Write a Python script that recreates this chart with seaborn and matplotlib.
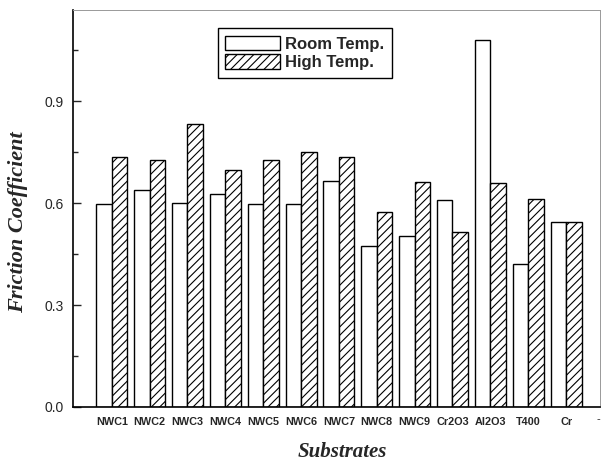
import matplotlib
matplotlib.use("Agg")
import matplotlib.pyplot as plt
from matplotlib.ticker import MultipleLocator
import seaborn as sns
import pandas as pd

substrates = ["NWC1", "NWC2", "NWC3", "NWC4", "NWC5", "NWC6", "NWC7", "NWC8",
              "NWC9", "Cr2O3", "Al2O3", "T400", "Cr"]
room_temp = [0.597, 0.638, 0.600, 0.627, 0.597, 0.597, 0.665, 0.474, 0.503,
             0.609, 1.079, 0.420, 0.544]
high_temp = [0.735, 0.726, 0.832, 0.697, 0.726, 0.750, 0.735, 0.574, 0.662,
             0.515, 0.659, 0.612, 0.544]
series = ["Room Temp.", "High Temp."]

df = pd.DataFrame({
    "Substrate": substrates * 2,
    "Friction": room_temp + high_temp,
    "Condition": [series[0]] * len(substrates) + [series[1]] * len(substrates),
})

sns.set_style("ticks")
plt.rcParams["font.family"] = ["Liberation Sans", "DejaVu Sans"]
plt.rcParams["hatch.linewidth"] = 0.8

fig = plt.figure(figsize=(6.04, 4.63), dpi=100)
ax = fig.add_axes([0.121, 0.121, 0.872, 0.857])

sns.barplot(data=df, x="Substrate", y="Friction", hue="Condition",
            order=substrates, hue_order=series, width=0.82, gap=0,
            palette=["white", "white"], edgecolor="black", linewidth=1.0,
            saturation=1, ax=ax, errorbar=None)

for patch in ax.containers[1]:
    patch.set_hatch("////")

ax.set_xlim(-1.02, 12.89)
ax.set_ylim(0, 1.168)
ax.yaxis.set_minor_locator(MultipleLocator(0.15))
ax.set_yticks([0.0, 0.3, 0.6, 0.9])
ax.set_yticklabels(["0.0", "0.3", "0.6", "0.9"], fontsize=10)
ax.tick_params(axis="y", which="major", direction="in", length=6, width=1, pad=7)
ax.tick_params(axis="y", which="minor", direction="in", length=3.5, width=1)
ax.tick_params(axis="x", length=0, pad=7)
for lab in ax.get_xticklabels():
    lab.set_fontsize(7.8)
    lab.set_fontweight("bold")

ax.text(12.85, -0.022, "-", ha="center", va="top", fontsize=8,
        transform=ax.transData)

for side in ["left", "bottom"]:
    ax.spines[side].set_color("black")
    ax.spines[side].set_linewidth(1.2)
for side in ["top", "right"]:
    ax.spines[side].set_visible(True)
    ax.spines[side].set_color("#999999")
    ax.spines[side].set_linewidth(0.7)
    ax.spines[side].set_linestyle((0, (1, 1)))

label_font = dict(family=["Liberation Serif", "DejaVu Serif"], weight="bold",
                  style="italic", size=15)
ax.set_xlabel("Substrates", fontdict=label_font)
ax.set_ylabel("Friction Coefficient", fontdict=dict(label_font, size=16))
ax.xaxis.set_label_coords(0.512, -0.089)
ax.yaxis.set_label_coords(-0.086, 0.466)

leg = ax.legend(loc="upper center", bbox_to_anchor=(0.44, 0.955),
                frameon=True, fancybox=False, shadow=False,
                prop=dict(family="Liberation Sans", weight="bold", size=12),
                handlelength=3.3, handleheight=1.0, handletextpad=0.3,
                borderpad=0.45, labelspacing=0.15, borderaxespad=0)
leg.get_frame().set_edgecolor("black")
leg.get_frame().set_linewidth(1.0)
leg.get_frame().set_alpha(1)
handles = leg.legend_handles
handles[0].set_facecolor("white")
handles[0].set_edgecolor("black")
handles[1].set_facecolor("white")
handles[1].set_edgecolor("black")
handles[1].set_hatch("////")

fig.savefig("out.png", dpi=100)
